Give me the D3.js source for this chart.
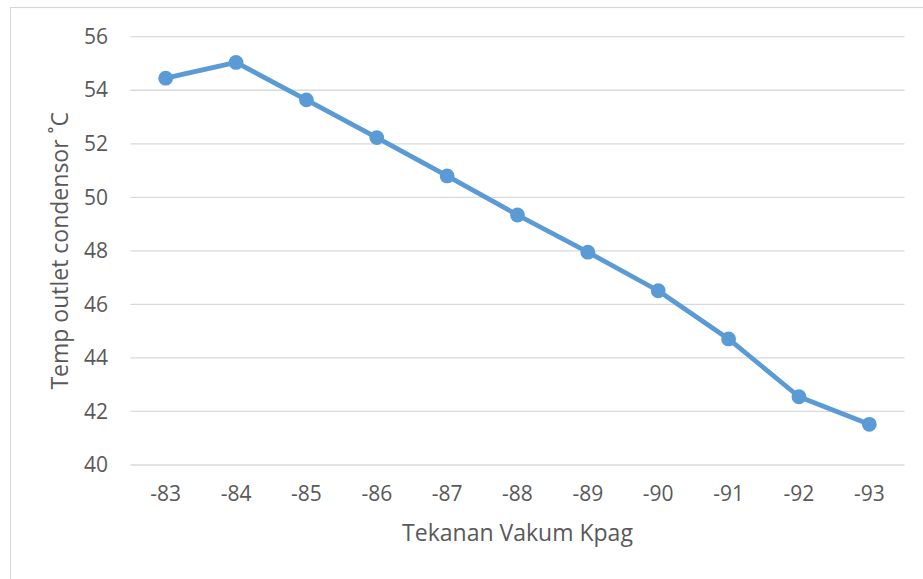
<!DOCTYPE html>
<html>
<head>
<meta charset="utf-8">
<script src="https://cdn.jsdelivr.net/npm/d3@7"></script>
<style>
  html, body { margin: 0; padding: 0; background: #fff; }
  svg { display: block; }
  text { font-family: "Open Sans", "Noto Sans", sans-serif; fill: #595959; }
</style>
</head>
<body>
<svg id="chart" width="923" height="579"></svg>
<script>
// Vacuum pressure (kPa gauge) categories along the x axis
const pressures = ["-83", "-84", "-85", "-86", "-87", "-88", "-89", "-90", "-91", "-92", "-93"];
// Condenser outlet temperature (°C) at each pressure
const outletTemps = [54.45, 55.04, 53.64, 52.23, 50.80, 49.34, 47.95, 46.51, 44.71, 42.55, 41.52];
// Value axis ticks
const yTicks = [40, 42, 44, 46, 48, 50, 52, 54, 56];

const xTitle = "Tekanan Vakum Kpag";
const yTitle = "Temp outlet condensor \u02DAC";

const svg = d3.select("#chart");
const plot = { left: 130.5, right: 904.5, top: 36.7, bottom: 465 };

// Chart area frame
svg.append("rect")
  .attr("x", 10.5).attr("y", 7.5)
  .attr("width", 1000).attr("height", 1000)
  .attr("fill", "#fff")
  .attr("stroke", "#d9d9d9").attr("stroke-width", 1.2);

const x = d3.scaleBand().domain(pressures).range([plot.left, plot.right]);
const y = d3.scaleLinear().domain([40, 56]).range([plot.bottom, plot.top]);

// Horizontal gridlines
svg.append("g")
  .selectAll("line")
  .data(yTicks)
  .join("line")
  .attr("x1", plot.left).attr("x2", plot.right)
  .attr("y1", d => y(d)).attr("y2", d => y(d))
  .attr("stroke", "#d9d9d9").attr("stroke-width", 1.3);

// Y axis labels
const yAxis = d3.axisLeft(y).tickValues(yTicks).tickSize(0).tickPadding(0);
const gy = svg.append("g").attr("transform", `translate(108,0)`).call(yAxis);
gy.select(".domain").remove();
gy.selectAll("text").attr("font-size", 21).attr("fill", "#595959")
  .style("font-family", "'Open Sans', sans-serif");

// X axis labels
const xAxis = d3.axisBottom(x).tickSize(0).tickPadding(0);
const gx = svg.append("g").attr("transform", `translate(0,${plot.bottom})`).call(xAxis);
gx.select(".domain").remove();
gx.selectAll("text").attr("font-size", 21).attr("fill", "#595959")
  .attr("dy", null).attr("y", 30.5).attr("dominant-baseline", "middle")
  .style("font-family", "'Open Sans', sans-serif");

// Data line
const line = d3.line()
  .x((d, i) => x(pressures[i]) + x.bandwidth() / 2)
  .y(d => y(d));

svg.append("path")
  .datum(outletTemps)
  .attr("d", line)
  .attr("fill", "none")
  .attr("stroke", "#5b9bd5")
  .attr("stroke-width", 4.8)
  .attr("stroke-linejoin", "round");

svg.append("g")
  .selectAll("circle")
  .data(outletTemps)
  .join("circle")
  .attr("cx", (d, i) => x(pressures[i]) + x.bandwidth() / 2)
  .attr("cy", d => y(d))
  .attr("r", 7.4)
  .attr("fill", "#5b9bd5");

// Axis titles
svg.append("text")
  .attr("x", (plot.left + plot.right) / 2)
  .attr("y", 535)
  .attr("text-anchor", "middle")
  .attr("dominant-baseline", "middle")
  .attr("font-size", 23)
  .text(xTitle);

svg.append("text")
  .attr("transform", `translate(62,${(plot.top + plot.bottom) / 2}) rotate(-90)`)
  .attr("text-anchor", "middle")
  .attr("dominant-baseline", "middle")
  .attr("font-size", 23)
  .text(yTitle);
</script>
</body>
</html>
